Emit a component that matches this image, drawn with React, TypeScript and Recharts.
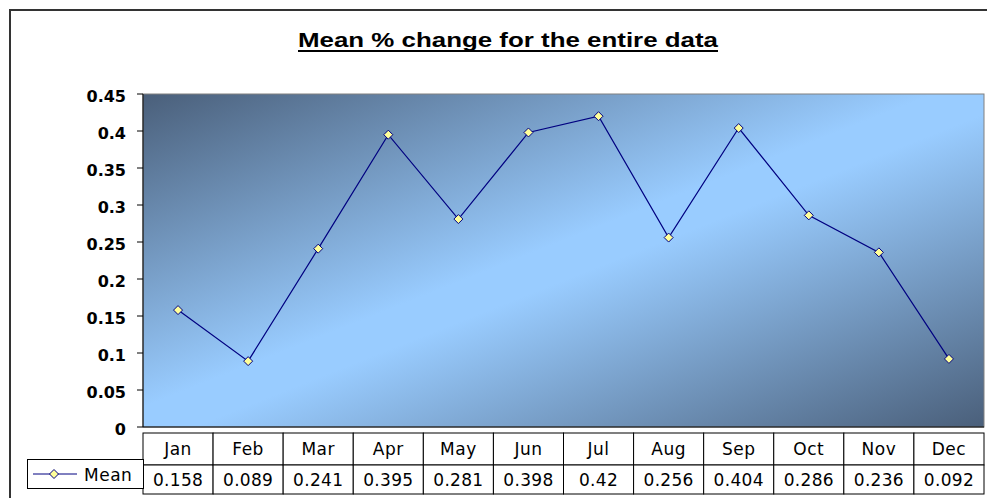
import { LineChart, Line, XAxis, YAxis } from "recharts";

const months = ["Jan", "Feb", "Mar", "Apr", "May", "Jun", "Jul", "Aug", "Sep", "Oct", "Nov", "Dec"];
const meanValues = [0.158, 0.089, 0.241, 0.395, 0.281, 0.398, 0.42, 0.256, 0.404, 0.286, 0.236, 0.092];
const yTicks = [0, 0.05, 0.1, 0.15, 0.2, 0.25, 0.3, 0.35, 0.4, 0.45];

const data = months.map((m, i) => ({ month: m, mean: meanValues[i] }));

const FONT = "'DejaVu Sans', Verdana, sans-serif";
const TITLE_FONT = "'Liberation Sans', Arial, sans-serif";
const PLOT_LEFT = 143;
const PLOT_RIGHT = 984;
const PLOT_TOP = 94;
const PLOT_BOTTOM = 427;
const COL_W = (PLOT_RIGHT - PLOT_LEFT) / months.length;
const ROW1 = 32;
const ROW2 = 29;

function Diamond({ cx, cy }: { cx?: number; cy?: number }) {
  if (cx == null || cy == null) return null;
  return (
    <path
      d={`M${cx},${cy - 4.5} L${cx + 4.5},${cy} L${cx},${cy + 4.5} L${cx - 4.5},${cy} Z`}
      fill="#ffff99"
      stroke="#000080"
      strokeWidth={1}
    />
  );
}

// each x tick draws one column of the data table: month + value
function TableTick(props: any) {
  const { x, y, payload, index } = props;
  const left = x - COL_W / 2;
  return (
    <g>
      <rect x={left} y={y} width={COL_W} height={ROW1} fill="#fff" stroke="#000" strokeWidth={1} />
      <rect x={left} y={y + ROW1} width={COL_W} height={ROW2} fill="#fff" stroke="#000" strokeWidth={1} />
      <text x={x} y={y + 22} textAnchor="middle" fontSize={17} letterSpacing={0.5} fontFamily={FONT} fill="#000">
        {payload.value}
      </text>
      <text x={x} y={y + ROW1 + 21} textAnchor="middle" fontSize={17} letterSpacing={0.3} fontFamily={FONT} fill="#000">
        {String(meanValues[index])}
      </text>
    </g>
  );
}

function LegendCell() {
  return (
    <div
      style={{
        position: "absolute",
        left: 27,
        top: PLOT_BOTTOM + ROW1,
        width: PLOT_LEFT - 27 + 1,
        height: ROW2 + 1,
        border: "1px solid #000",
        boxSizing: "border-box",
        background: "#fff",
      }}
    >
      <svg width={PLOT_LEFT - 27} height={ROW2} style={{ position: "absolute", left: 0, top: 0 }}>
        <line x1={5} y1={14} x2={49} y2={14} stroke="#000080" strokeWidth={1} />
        <Diamond cx={26} cy={14} />
        <text x={56} y={21} fontSize={17} letterSpacing={0.5} fontFamily={FONT} fill="#000">
          Mean
        </text>
      </svg>
    </div>
  );
}

export default function App() {
  return (
    <div style={{ position: "absolute", left: 0, top: 0, width: 987, height: 498, background: "#fff", overflow: "hidden" }}>
      <div
        style={{
          position: "absolute",
          left: 9,
          top: 9,
          width: 990,
          height: 500,
          border: "2px solid #333",
          boxSizing: "border-box",
        }}
      />
      <svg width={987} height={70} style={{ position: "absolute", left: 0, top: 0 }}>
        <text
          x={508}
          y={47}
          textAnchor="middle"
          fontFamily={TITLE_FONT}
          fontWeight="bold"
          fontSize={21}
          textLength={420}
          lengthAdjust="spacingAndGlyphs"
          fill="#000"
        >
          Mean % change for the entire data
        </text>
        <line x1={298} y1={51} x2={718} y2={51} stroke="#000" strokeWidth={2} />
      </svg>
      <div style={{ position: "absolute", left: 0, top: 0 }}>
        <LineChart
          width={987}
          height={498}
          data={data}
          margin={{ top: PLOT_TOP, right: 987 - PLOT_RIGHT, bottom: 0, left: PLOT_LEFT - 80 }}
        >
          <defs>
            <linearGradient id="plotBg" x1="0" y1="0" x2="1" y2="1">
              <stop offset="0%" stopColor="#4a5f7a" />
              <stop offset="47%" stopColor="#99ccff" />
              <stop offset="53%" stopColor="#99ccff" />
              <stop offset="100%" stopColor="#4a5f7a" />
            </linearGradient>
          </defs>
          <rect
            x={PLOT_LEFT}
            y={PLOT_TOP}
            width={PLOT_RIGHT - PLOT_LEFT}
            height={PLOT_BOTTOM - PLOT_TOP}
            fill="url(#plotBg)"
            stroke="#808080"
            strokeWidth={1}
          />
          <XAxis
            dataKey="month"
            height={498 - PLOT_BOTTOM}
            padding={{ left: COL_W / 2, right: COL_W / 2 }}
            axisLine={{ stroke: "#000" }}
            tickLine={false}
            tick={<TableTick />}
            tickMargin={0}
            interval={0}
          />
          <YAxis
            width={80}
            domain={[0, 0.45]}
            ticks={yTicks}
            interval={0}
            axisLine={{ stroke: "#000" }}
            tickLine={{ stroke: "#000" }}
            tickSize={6}
            tickMargin={11}
            tickFormatter={(v: number) => String(parseFloat(v.toFixed(2)))}
            tick={{ fontFamily: FONT, fontWeight: "bold", fontSize: 16, fill: "#000", dy: 2 }}
          />
          <Line
            type="linear"
            dataKey="mean"
            stroke="#000080"
            strokeWidth={1.2}
            dot={<Diamond />}
            activeDot={false}
            isAnimationActive={false}
          />
        </LineChart>
      </div>
      <LegendCell />
    </div>
  );
}
